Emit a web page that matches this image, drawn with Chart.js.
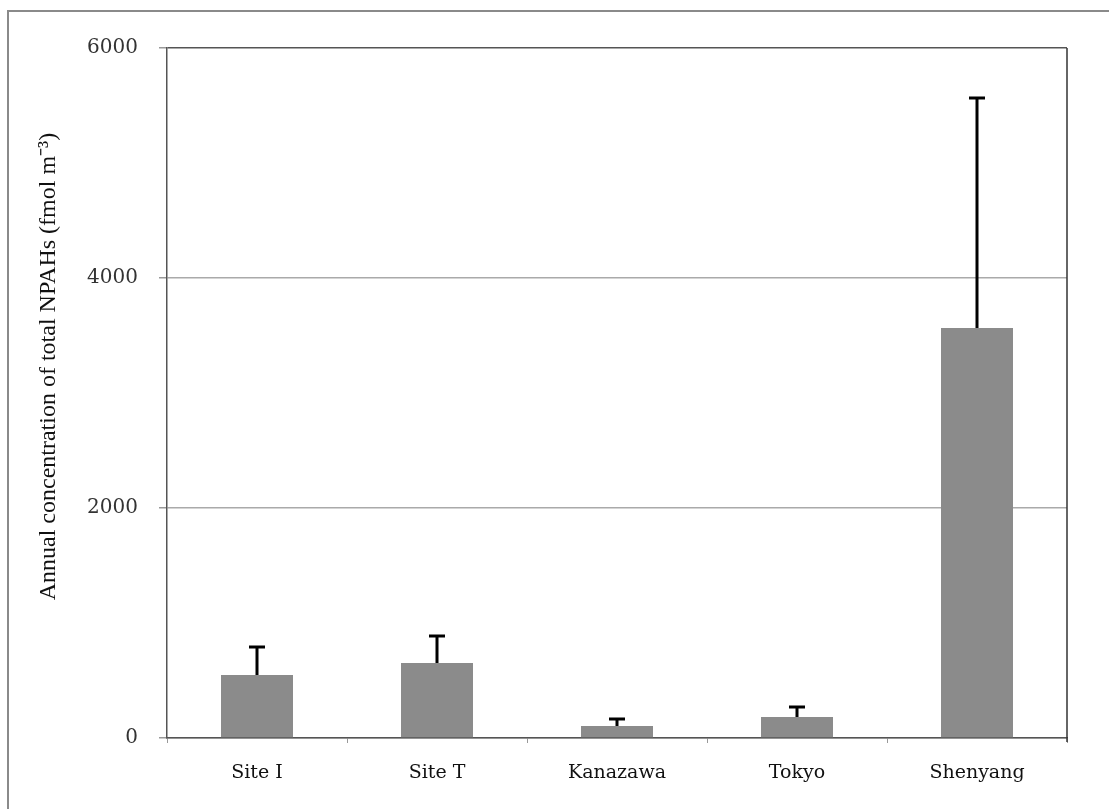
<!DOCTYPE html>
<html>
<head>
<meta charset="utf-8">
<script src="https://cdn.jsdelivr.net/npm/chart.js@4/dist/chart.umd.min.js"></script>
<style>
  html, body { margin: 0; padding: 0; background: #fff; }
  #wrap { position: relative; width: 1109px; height: 809px; }
  #frame { position: absolute; left: 7px; top: 10px; width: 1102px; height: 799px;
           border-left: 2px solid #8a8a8a; border-top: 2px solid #8a8a8a; }
  canvas { position: absolute; left: 0; top: 0; }
</style>
</head>
<body>
<div id="wrap">
  <div id="frame"></div>
  <canvas id="canvas" width="1109" height="809"></canvas>
</div>
<script>
// data
var sites = ['Site I', 'Site T', 'Kanazawa', 'Tokyo', 'Shenyang'];
var annualMean = [548, 652, 104, 183, 3565];
var annualSD = [243, 235, 61, 87, 2000];
var yTicks = [0, 2000, 4000, 6000];
var yTitle = 'Annual concentration of total NPAHs (fmol m\u207B\u00B3)';

// upper error bars, right frame of the plot, y title (sits a bit above centre)
var errorBars = {
        id: 'errorBars',
        afterDatasetsDraw: function(chart) {
                var ctx = chart.ctx;
                var yScale = chart.scales.y;
                var meta = chart.getDatasetMeta(0);
                ctx.save();
                ctx.strokeStyle = '#000';
                ctx.lineWidth = 3;
                meta.data.forEach(function(bar, i) {
                        var top = yScale.getPixelForValue(annualMean[i] + annualSD[i]);
                        ctx.beginPath();
                        ctx.moveTo(bar.x, bar.y);
                        ctx.lineTo(bar.x, top);
                        ctx.moveTo(bar.x - 8, top);
                        ctx.lineTo(bar.x + 8, top);
                        ctx.stroke();
                });
                var a = chart.chartArea;
                ctx.strokeStyle = '#333';
                ctx.lineWidth = 1.5;
                ctx.beginPath();
                ctx.moveTo(a.right, a.top);
                ctx.lineTo(a.right, a.bottom + 4);
                ctx.stroke();

                ctx.translate(49, yScale.getPixelForValue(3230));
                ctx.rotate(-Math.PI / 2);
                ctx.fillStyle = '#111';
                ctx.font = '24px "Liberation Serif"';
                ctx.textAlign = 'center';
                ctx.textBaseline = 'middle';
                ctx.fillText(yTitle, 0, 0);
                ctx.restore();
        }
};

var config = {
        type: 'bar',
        data: {
                labels: sites,
                datasets: [{
                        data: annualMean,
                        backgroundColor: '#8b8b8b',
                        borderWidth: 0,
                        categoryPercentage: 1,
                        barPercentage: 0.4
                }]
        },
        options: {
                responsive: false,
                animation: false,
                layout: { padding: { top: 48, right: 42, left: 0, bottom: 0 } },
                plugins: {
                        legend: { display: false },
                        tooltip: { enabled: false }
                },
                scales: {
                        x: {
                                afterFit: function(scale) { scale.height = 71; },
                                grid: {
                                        offset: true,
                                        drawOnChartArea: false,
                                        tickLength: 5,
                                        tickColor: '#999'
                                },
                                border: { color: '#555', width: 1.5 },
                                ticks: {
                                        padding: 19,
                                        color: '#111',
                                        font: { family: 'DejaVu Serif', size: 19 }
                                }
                        },
                        y: {
                                min: 0,
                                max: 6000,
                                afterFit: function(scale) { scale.width = 167; },
                                afterBuildTicks: function(scale) {
                                        scale.ticks = yTicks.map(function(v) { return { value: v }; });
                                },
                                grid: {
                                        color: function(c) { return c.tick && c.tick.value === 6000 ? '#555' : '#aaa'; },
                                        lineWidth: 1.5,
                                        tickLength: 8,
                                        tickColor: '#999'
                                },
                                border: { color: '#555', width: 1.5 },
                                ticks: {
                                        padding: 21,
                                        color: '#333',
                                        font: { family: 'DejaVu Serif', size: 20 },
                                        callback: function(v) { return String(v); }
                                }
                        }
                }
        },
        plugins: [errorBars]
};

window.onload = function() {
        var ctx = document.getElementById('canvas').getContext('2d');
        window.myBar = new Chart(ctx, config);
};
</script>
</body>
</html>
